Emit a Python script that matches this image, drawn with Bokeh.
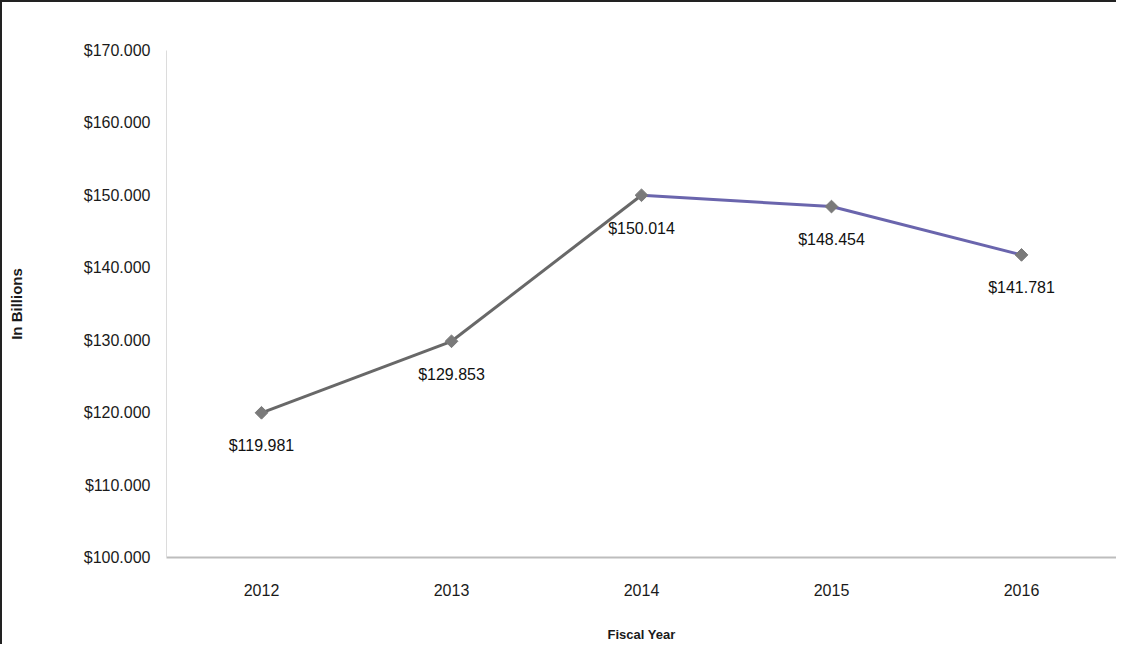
import math
from bokeh.plotting import figure
from bokeh.models import ColumnDataSource, FactorRange, NumeralTickFormatter, FixedTicker, LabelSet
from bokeh.core.properties import value
from bokeh.embed import file_html
from bokeh.resources import INLINE

years = ["2012", "2013", "2014", "2015", "2016"]
values = [119.981, 129.853, 150.014, 148.454, 141.781]
labels = ["$119.981", "$129.853", "$150.014", "$148.454", "$141.781"]
y_ticks = [100, 110, 120, 130, 140, 150, 160, 170]
segment_colors = ["#686868", "#686868", "#6a65ad", "#6a65ad"]

FONT = "Liberation Sans"

p = figure(width=1116, height=644, x_range=FactorRange(*years), y_range=(100, 170),
           output_backend="svg", toolbar_location=None,
           min_border_left=164, min_border_right=2, min_border_top=48, min_border_bottom=89)
p.styles = {"border-top": "2px solid #222", "border-left": "2px solid #222"}

p.xgrid.visible = False
p.ygrid.visible = False
p.outline_line_color = None
p.background_fill_color = "white"

# y axis
p.yaxis.ticker = FixedTicker(ticks=y_ticks)
p.yaxis.formatter = NumeralTickFormatter(format="$0,0.000")
p.yaxis.axis_line_color = "#dcdcdc"
p.yaxis.axis_line_width = 1
p.yaxis.major_tick_line_color = None
p.yaxis.minor_tick_line_color = None
p.yaxis.major_label_standoff = 10
p.yaxis.major_label_text_font = FONT
p.yaxis.major_label_text_font_size = "16px"
p.yaxis.major_label_text_color = "#1a1a1a"
p.yaxis.axis_label = "In Billions"
p.yaxis.axis_label_text_font = FONT
p.yaxis.axis_label_text_font_style = "bold"
p.yaxis.axis_label_text_font_size = "15px"
p.yaxis.axis_label_text_color = "#1a1a1a"
p.yaxis.axis_label_standoff = 56

# x axis
p.xaxis.axis_line_color = "#bdbdbd"
p.xaxis.axis_line_width = 2
p.xaxis.major_tick_line_color = None
p.xaxis.minor_tick_line_color = None
p.xaxis.major_label_standoff = 20
p.xaxis.major_label_text_font = FONT
p.xaxis.major_label_text_font_size = "16px"
p.xaxis.major_label_text_color = "#1a1a1a"
p.xaxis.axis_label = "Fiscal Year"
p.xaxis.axis_label_text_font = FONT
p.xaxis.axis_label_text_font_style = "bold"
p.xaxis.axis_label_text_font_size = "13px"
p.xaxis.axis_label_text_color = "#1a1a1a"
p.xaxis.axis_label_standoff = 28

seg = ColumnDataSource(dict(x0=years[:-1], y0=values[:-1], x1=years[1:], y1=values[1:],
                            color=segment_colors))
p.segment(x0="x0", y0="y0", x1="x1", y1="y1", color="color", line_width=3, source=seg)

src = ColumnDataSource(dict(x=years, y=values, label=labels))
p.scatter(x="x", y="y", marker="square", size=9, angle=math.pi / 4,
          fill_color="#7a7a7a", line_color="#7a7a7a", source=src)

ls = LabelSet(x="x", y="y", text="label", source=src, y_offset=-33,
              text_align="center", text_baseline="middle",
              text_font=value(FONT), text_font_size="16px", text_color="#111111")
p.add_layout(ls)

open("out.html", "w").write(file_html(p, INLINE))
